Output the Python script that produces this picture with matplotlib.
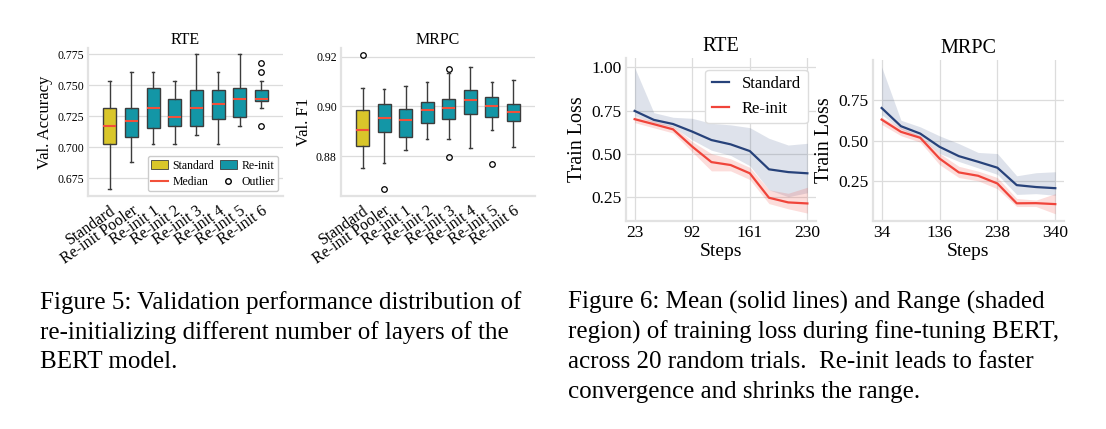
import numpy as np
import matplotlib
matplotlib.use("Agg")
import matplotlib.pyplot as plt
from matplotlib.patches import Patch
from matplotlib.lines import Line2D

plt.rcParams['font.family'] = ['Liberation Serif', 'DejaVu Serif']
plt.rcParams['mathtext.fontset'] = 'stix'

# ---- box plot data ----
box_labels = ["Standard", "Re-init Pooler", "Re-init 1", "Re-init 2",
              "Re-init 3", "Re-init 4", "Re-init 5", "Re-init 6"]

rte_lo = [0.6663, 0.6884, 0.7027, 0.7027, 0.7099, 0.7027, 0.7172, 0.7317]
rte_q1 = [0.7027, 0.7080, 0.7153, 0.7172, 0.7172, 0.7225, 0.7244, 0.7370]
rte_med = [0.7172, 0.7210, 0.7317, 0.7244, 0.7317, 0.7352, 0.7390, 0.7390]
rte_q3 = [0.7317, 0.7317, 0.7480, 0.7390, 0.7462, 0.7462, 0.7480, 0.7462]
rte_hi = [0.7535, 0.7605, 0.7605, 0.7535, 0.7750, 0.7605, 0.7750, 0.7535]
rte_out = [[], [], [], [], [], [], [], [0.7680, 0.7607, 0.7172]]

mrpc_lo = [0.8753, 0.8773, 0.8823, 0.8868, 0.8868, 0.8831, 0.8907, 0.8837]
mrpc_q1 = [0.8840, 0.8897, 0.8876, 0.8932, 0.8949, 0.8969, 0.8957, 0.8940]
mrpc_med = [0.8905, 0.8953, 0.8945, 0.8987, 0.8995, 0.9024, 0.9001, 0.8979]
mrpc_q3 = [0.8985, 0.9008, 0.8991, 0.9016, 0.9028, 0.9065, 0.9040, 0.9008]
mrpc_hi = [0.9076, 0.9071, 0.9083, 0.9099, 0.9136, 0.9160, 0.9099, 0.9107]
mrpc_out = [[0.9205], [0.8667], [], [], [0.9152, 0.8797], [], [0.8769], []]

# ---- training loss data ----
rte_steps = [23, 46, 69, 92, 115, 138, 161, 184, 207, 230]
rte_std = [0.748, 0.696, 0.672, 0.628, 0.579, 0.554, 0.515, 0.409, 0.393, 0.386]
rte_std_hi = [1.000, 0.738, 0.711, 0.705, 0.676, 0.667, 0.651, 0.589, 0.550, 0.560]
rte_std_lo = [0.720, 0.680, 0.655, 0.580, 0.520, 0.490, 0.430, 0.290, 0.250, 0.273]
rte_re = [0.700, 0.671, 0.641, 0.541, 0.451, 0.434, 0.386, 0.244, 0.217, 0.211]
rte_re_hi = [0.715, 0.690, 0.660, 0.570, 0.500, 0.470, 0.420, 0.290, 0.270, 0.305]
rte_re_lo = [0.680, 0.650, 0.620, 0.510, 0.400, 0.400, 0.350, 0.210, 0.180, 0.155]

mrpc_steps = [34, 68, 102, 136, 170, 204, 238, 272, 306, 340]
mrpc_std = [0.702, 0.589, 0.543, 0.461, 0.403, 0.368, 0.331, 0.223, 0.211, 0.204]
mrpc_std_hi = [0.957, 0.626, 0.585, 0.529, 0.481, 0.426, 0.419, 0.281, 0.300, 0.306]
mrpc_std_lo = [0.660, 0.570, 0.520, 0.420, 0.370, 0.330, 0.290, 0.165, 0.170, 0.160]
mrpc_re = [0.630, 0.554, 0.517, 0.388, 0.302, 0.281, 0.233, 0.110, 0.111, 0.105]
mrpc_re_hi = [0.645, 0.580, 0.530, 0.420, 0.340, 0.310, 0.270, 0.140, 0.130, 0.170]
mrpc_re_lo = [0.600, 0.530, 0.490, 0.350, 0.270, 0.250, 0.200, 0.090, 0.090, 0.045]

YELLOW = "#d9c62a"
TEAL = "#1396a6"
MED = "#f2503a"
EDGE = "#3c3c3c"
BLUE = "#27427a"
RED = "#f0443a"
SPINE = "#e2e2e2"
GRID = "#dcdcdc"


def style_axes(ax, xgrid=True):
    for s in ["top", "right"]:
        ax.spines[s].set_visible(False)
    for s in ["left", "bottom"]:
        ax.spines[s].set_color(SPINE)
        ax.spines[s].set_linewidth(1.6)
    ax.set_axisbelow(True)
    ax.grid(True, axis="y", color=GRID, lw=0.9)
    if xgrid:
        ax.grid(True, axis="x", color=GRID, lw=0.9)
    ax.tick_params(length=0)


def draw_box(ax, lo, q1, med, q3, hi, out, title, ylabel, ylim, yticks, ytl):
    stats = []
    for i in range(len(box_labels)):
        stats.append(dict(whislo=lo[i], q1=q1[i], med=med[i], q3=q3[i],
                          whishi=hi[i], fliers=out[i]))
    bp = ax.bxp(stats, positions=np.arange(len(stats)), widths=0.6,
                patch_artist=True, showfliers=True, capwidths=0.12,
                boxprops=dict(edgecolor=EDGE, linewidth=1.0),
                medianprops=dict(color=MED, linewidth=1.5),
                whiskerprops=dict(color=EDGE, linewidth=1.0),
                capprops=dict(color=EDGE, linewidth=1.0),
                flierprops=dict(marker="o", markerfacecolor="none",
                                markeredgecolor="black", markersize=4,
                                markeredgewidth=0.9))
    for i, b in enumerate(bp["boxes"]):
        b.set_facecolor(YELLOW if i == 0 else TEAL)
    style_axes(ax, xgrid=False)
    ax.set_xlim(-1, 8)
    ax.set_ylim(*ylim)
    ax.set_yticks(yticks)
    ax.set_yticklabels(ytl, fontsize=8.5)
    ax.set_xticks(np.arange(len(box_labels)))
    ax.set_xticklabels(box_labels, rotation=35, ha="right",
                       rotation_mode="anchor", fontsize=11.5)
    ax.tick_params(axis="y", pad=3)
    ax.tick_params(axis="x", pad=5)
    ax.set_title(title, fontsize=11.5, pad=3)
    ax.set_ylabel(ylabel, fontsize=12, labelpad=3)


def draw_loss(ax, steps, std, std_lo, std_hi, re, re_lo, re_hi, title, ylim, yticks, ytl):
    ax.fill_between(steps, std_lo, std_hi, color=BLUE, alpha=0.15, lw=0)
    ax.fill_between(steps, re_lo, re_hi, color=RED, alpha=0.18, lw=0)
    ax.plot(steps, std, color=BLUE, lw=1.6, label="Standard")
    ax.plot(steps, re, color=RED, lw=1.6, label="Re-init")
    style_axes(ax)
    ax.set_xticks([steps[0], steps[3], steps[6], steps[9]])
    ax.set_xticklabels([str(steps[0]), str(steps[3]), str(steps[6]), str(steps[9])],
                       fontsize=12.5)
    ax.set_ylim(*ylim)
    ax.set_yticks(yticks)
    ax.set_yticklabels(ytl, fontsize=12.5)
    ax.tick_params(pad=3)
    ax.set_title(title, fontsize=14.5, pad=5)
    ax.set_xlabel("Steps", fontsize=14, labelpad=1)
    ax.set_ylabel("Train Loss", fontsize=14.5, labelpad=3)


fig = plt.figure(figsize=(11.06, 4.29), dpi=100)

ax1 = fig.add_axes([0.0796, 0.5431, 0.1763, 0.345])
draw_box(ax1, rte_lo, rte_q1, rte_med, rte_q3, rte_hi, rte_out, "RTE", "Val. Accuracy",
         (0.6607, 0.780), [0.675, 0.700, 0.725, 0.750, 0.775],
         ["0.675", "0.700", "0.725", "0.750", "0.775"])
handles = [Patch(facecolor=YELLOW, edgecolor=EDGE, lw=0.6, label="Standard"),
           Line2D([], [], color=MED, lw=1.5, label="Median"),
           Patch(facecolor=TEAL, edgecolor=EDGE, lw=0.6, label="Re-init"),
           Line2D([], [], ls="none", marker="o", markerfacecolor="none",
                  markeredgecolor="black", markersize=4, label="Outlier")]
ax1.legend(handles=handles, ncol=2, loc="lower right", fontsize=8.5,
           frameon=True, framealpha=1, edgecolor="#cccccc",
           handlelength=1.4, handletextpad=0.4, columnspacing=0.5,
           borderpad=0.3, labelspacing=0.35, borderaxespad=0.4)

ax2 = fig.add_axes([0.3083, 0.5431, 0.1754, 0.345])
draw_box(ax2, mrpc_lo, mrpc_q1, mrpc_med, mrpc_q3, mrpc_hi, mrpc_out, "MRPC", "Val. F1",
         (0.864, 0.9235), [0.88, 0.90, 0.92], ["0.88", "0.90", "0.92"])

ax3 = fig.add_axes([0.566, 0.4848, 0.1718, 0.38])
draw_loss(ax3, rte_steps, rte_std, rte_std_lo, rte_std_hi, rte_re, rte_re_lo, rte_re_hi,
          "RTE", (0.109, 1.055), [0.25, 0.50, 0.75, 1.00], ["0.25", "0.50", "0.75", "1.00"])
ax3.legend(loc="upper right", fontsize=12, frameon=True, framealpha=1,
           edgecolor="#dddddd", handlelength=1.0, borderpad=0.4,
           bbox_to_anchor=(1.0, 0.98))

ax4 = fig.add_axes([0.7893, 0.4848, 0.1727, 0.3753])
draw_loss(ax4, mrpc_steps, mrpc_std, mrpc_std_lo, mrpc_std_hi, mrpc_re, mrpc_re_lo, mrpc_re_hi,
          "MRPC", (0.0, 1.0), [0.25, 0.50, 0.75], ["0.25", "0.50", "0.75"])

cap5 = ["Figure 5: Validation performance distribution of",
        "re-initializing different number of layers of the",
        "BERT model."]
cap6 = ["Figure 6: Mean (solid lines) and Range (shaded",
        "region) of training loss during fine-tuning BERT,",
        "across 20 random trials.  Re-init leads to faster",
        "convergence and shrinks the range."]
for i, line in enumerate(cap5):
    fig.text(40 / 1106, 1 - (291 + 30 * i) / 429, line, fontsize=18, va="top", ha="left")
for i, line in enumerate(cap6):
    fig.text(568 / 1106, 1 - (291 + 30 * i) / 429, line, fontsize=18, va="top", ha="left")

fig.savefig("out.png", dpi=100)
